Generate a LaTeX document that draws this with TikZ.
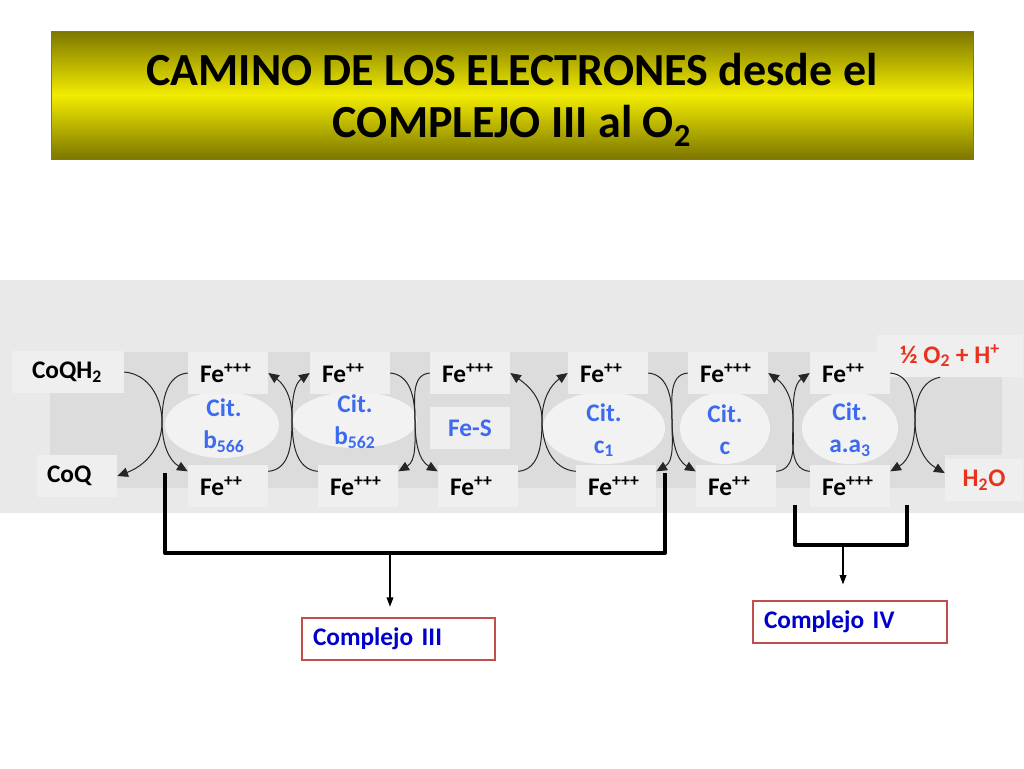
\documentclass[tikz,border=0pt]{standalone}
\usepackage{fontspec}
\setmainfont{Carlito}
\usetikzlibrary{arrows.meta,positioning,shapes.geometric}
\definecolor{bandgray}{HTML}{E9E9E9}
\definecolor{stripgray}{HTML}{DCDCDC}
\definecolor{boxgray}{HTML}{EFEFEF}
\definecolor{ovalgray}{HTML}{F2F2F2}
\definecolor{cytblue}{HTML}{3D6BF0}
\definecolor{cxblue}{HTML}{0000CC}
\definecolor{oxred}{HTML}{E8321E}
\definecolor{titledark}{HTML}{7C7600}
\definecolor{titlelight}{HTML}{F2EC00}
\definecolor{frame}{HTML}{C0504D}
\tikzset{
    %Define standard arrow tip
    >={Triangle[length=8pt,width=7pt]},
    %Define style for boxes
    febox/.style={
           rectangle,
           fill=boxgray,
           minimum width=60pt,
           minimum height=31.5pt,
           inner xsep=9pt,
           text width=42pt,
           align=left,
           font=\bfseries\fontsize{19}{22}\selectfont},
    cyt/.style={
           inner sep=0pt,
           align=center,
           text=cytblue,
           font=\bfseries\fontsize{19}{24}\selectfont},
    ox/.style={
           rectangle,
           fill=boxgray,
           minimum height=31.5pt,
           text=oxred,
           font=\bfseries\fontsize{19}{22}\selectfont},
    cxbox/.style={
           rectangle,
           draw=frame, line width=0.8pt,
           fill=white,
           minimum height=31.5pt,
           inner xsep=8.25pt,
           align=left,
           text=cxblue,
           font=\bfseries\fontsize{19}{22}\selectfont},
    titlebox/.style={
           rectangle,
           draw=frame, line width=0.6pt,
           top color=titledark, bottom color=titledark, middle color=titlelight,
           minimum width=691.5pt,
           minimum height=96pt,
           align=center,
           font=\bfseries\fontsize{34.5}{39}\selectfont},
    % Define arrow style
    redox/.style={
           ->,
           draw=black!85,
           line width=0.75pt},
    brace/.style={
           line width=3pt,
           line join=round},
    pointer/.style={
           ->, >={Triangle[length=7pt,width=5pt]},
           line width=1pt}
}
\begin{document}
\begin{tikzpicture}[x=0.75pt,y=0.75pt]
\useasboundingbox (0,0) rectangle (1024,-768);
% title
\fill[white] (0,0) rectangle (1024,-768);
\node[titlebox, text depth=0pt](title) at (512,-95){CAMINO DE LOS ELECTRONES desde el\\COMPLEJO III al O\textsubscript{2}};
% grey background
\fill[bandgray] (0,-280) rectangle (1024,-513);
\fill[stripgray] (50,-352) rectangle (890,-488);
\fill[stripgray] (890,-377) rectangle (1002,-455);
\fill[stripgray] (890,-455) rectangle (945,-488);
\fill[ovalgray] (222,-425) ellipse [x radius=57, y radius=33];
\fill[ovalgray] (355,-420) ellipse [x radius=62, y radius=28];
\fill[ovalgray] (604,-428) ellipse [x radius=61, y radius=36];
\fill[ovalgray] (725,-428) ellipse [x radius=45, y radius=36];
\fill[ovalgray] (850,-428) ellipse [x radius=48, y radius=36];
% iron states
\node[febox, inner xsep=15pt, text width=54pt](coqh2) at (68,-372){CoQH\textsubscript{2}};
\node[febox, inner xsep=7.5pt, text width=45pt](coq) at (77,-476){CoQ};
\node[febox](fe1t) at (228,-373){Fe\textsuperscript{+++}};
\node[febox](fe1b) at (228,-486){Fe\textsuperscript{++}};
\node[febox](fe2t) at (350,-373){Fe\textsuperscript{++}};
\node[febox](fe2b) at (358,-486){Fe\textsuperscript{+++}};
\node[febox](fe3t) at (470,-373){Fe\textsuperscript{+++}};
\node[febox](fe3b) at (478,-486){Fe\textsuperscript{++}};
\node[febox](fe4t) at (608,-373){Fe\textsuperscript{++}};
\node[febox](fe4b) at (616,-486){Fe\textsuperscript{+++}};
\node[febox](fe5t) at (728,-373){Fe\textsuperscript{+++}};
\node[febox](fe5b) at (736,-486){Fe\textsuperscript{++}};
\node[febox](fe6t) at (850,-373){Fe\textsuperscript{++}};
\node[febox](fe6b) at (850,-486){Fe\textsuperscript{+++}};
\node[ox, minimum width=110pt](o2) at (950,-356){½ O\textsubscript{2} + H\textsuperscript{+}};
\node[ox, minimum width=58.5pt](h2o) at (984,-480){H\textsubscript{2}O};
% carriers
\node[cyt](b566) at (224,-426){Cit.\\b\textsubscript{566}};
\node[cyt](b562) at (355,-422){Cit.\\b\textsubscript{562}};
\node[cyt, fill=boxgray, minimum width=60pt, minimum height=32pt](fes) at (470,-428){Fe-S};
\node[cyt](c1) at (604,-430){Cit.\\c\textsubscript{1}};
\node[cyt](cc) at (725,-430){Cit.\\c};
\node[cyt](aa3) at (850,-430){Cit.\\a.a\textsubscript{3}};
% crossings
\coordinate (x1) at (162,-422);
\coordinate (x2) at (292,-417);
\coordinate (x3) at (415,-420);
\coordinate (x4) at (542,-420);
\coordinate (x5) at (672,-420);
\coordinate (x6) at (793,-420);
\coordinate (x7) at (915,-420);
\draw[redox] (coqh2.east) to[out=-5,in=90] (x1) to[out=-90,in=20] (coq.east);
\draw[redox] (fe1t.west) to[out=185,in=90] (x1) to[out=-90,in=150] (fe1b.160);
\draw[redox] (fe1b.20) to[out=5,in=-90] (x2) to[out=90,in=-35] (fe1t.east);
\draw[redox] (fe2b.160) to[out=175,in=-90] (x2) to[out=90,in=-145] (fe2t.west);
\draw[redox] (fe2t.east) to[out=-5,in=90] (x3) to[out=-90,in=30] (fe2b.20);
\draw[redox] (fe3t.west) to[out=185,in=90] (x3) to[out=-90,in=150] (fe3b.160);
\draw[redox] (fe3b.20) to[out=5,in=-90] (x4) to[out=90,in=-35] (fe3t.east);
\draw[redox] (fe4b.160) to[out=175,in=-90] (x4) to[out=90,in=-145] (fe4t.west);
\draw[redox] (fe4t.east) to[out=-5,in=90] (x5) to[out=-90,in=30] (fe4b.20);
\draw[redox] (fe5t.west) to[out=185,in=90] (x5) to[out=-90,in=150] (fe5b.160);
\draw[redox] (fe5b.20) to[out=5,in=-90] (x6) to[out=90,in=-35] (fe5t.east);
\draw[redox] (fe6b.160) to[out=175,in=-90] (x6) to[out=90,in=-145] (fe6t.west);
\draw[redox] (fe6t.east) to[out=-5,in=90] (x7) to[out=-90,in=30] (fe6b.20);
\draw[redox] (o2.-115) to[out=190,in=90] (x7) to[out=-90,in=150] (h2o.170);
% complexes
\node[cxbox, minimum width=144.75pt, text width=128.25pt](c3) at (398.5,-639){Complejo III};
\node[cxbox, minimum width=145.5pt, text width=129pt](c4) at (850,-622){Complejo IV};
\coordinate (b3l) at (165,-473);
\coordinate (b3r) at (665,-473);
\coordinate (b3m) at (390,-553);
\coordinate (b4l) at (795,-505);
\coordinate (b4r) at (907,-505);
\coordinate (b4m) at (843,-545);
\draw[brace] (b3l) |- (b3m) -| (b3r);
\draw[brace] (b4l) |- (b4m) -| (b4r);
\draw[pointer, shorten >=8pt] (b3m) -- (c3.north -| b3m);
\draw[pointer, shorten >=12pt] (b4m) -- (c4.north -| b4m);
\end{tikzpicture}
\end{document}
